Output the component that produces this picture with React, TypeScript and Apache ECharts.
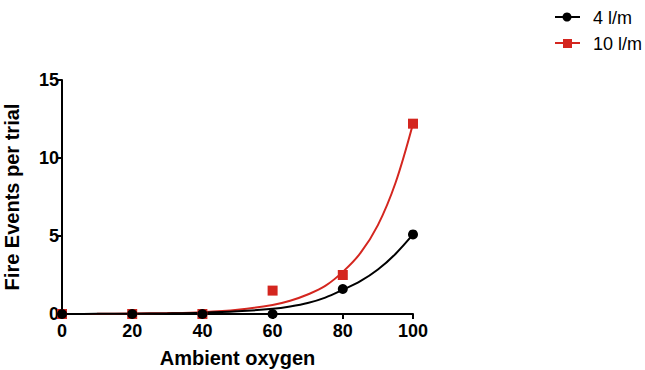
import React, { useEffect, useRef } from "react";
import * as echarts from "echarts";

const xTicks = [0, 20, 40, 60, 80, 100];
const pointsX = [0, 20, 40, 60, 80, 100];
const black4Points = [0, 0, 0, 0, 1.6, 5.1];
const red10Points = [0, 0, 0, 1.5, 2.5, 12.2];

const curveX = [0, 10, 20, 30, 40, 50, 60, 65, 70, 75, 80, 85, 90, 95, 100];
const black4Curve = [0, 0.01, 0.02, 0.04, 0.08, 0.17, 0.33, 0.48, 0.7, 1.05, 1.55, 2.1, 2.85, 3.85, 5.1];
const red10Curve = [0, 0.01, 0.03, 0.06, 0.12, 0.27, 0.58, 0.85, 1.25, 1.8, 2.7, 3.9, 5.7, 8.4, 12.2];

const legendNames = ["4 l/m", "10 l/m"];
const BLACK = "#000000";
const RED = "#d4261f";
const FONT = "'Liberation Sans', Arial, Helvetica, sans-serif";

export default function App() {
  const ref = useRef<HTMLDivElement>(null);
  useEffect(() => {
    if (!ref.current) return;
    const chart = echarts.init(ref.current, undefined, { renderer: "svg" });
    const zip = (xs: number[], ys: number[]) => xs.map((x, i) => [x, ys[i]]);
    chart.setOption({
      animation: false,
      backgroundColor: "#ffffff",
      grid: { left: 62, right: 232, top: 80, bottom: 56, containLabel: false, outerBoundsMode: "none" },
      xAxis: {
        type: "value",
        min: 0,
        max: 100,
        interval: 20,
        name: "Ambient oxygen",
        nameLocation: "middle",
        nameGap: 34,
        nameTextStyle: { fontFamily: FONT, fontWeight: "bold", fontSize: 20, color: "#000" },
        axisLine: { show: true, onZero: false, lineStyle: { color: "#000", width: 2 } },
        axisTick: { show: true, length: 5, lineStyle: { color: "#000", width: 2 } },
        axisLabel: {
          fontFamily: FONT,
          fontWeight: "bold",
          fontSize: 18,
          color: "#000",
          margin: 8,
          formatter: (v: number) => (xTicks.includes(v) ? String(v) : ""),
        },
        splitLine: { show: false },
      },
      yAxis: {
        type: "value",
        min: 0,
        max: 15,
        interval: 5,
        name: "Fire Events per trial",
        nameLocation: "middle",
        nameGap: 40,
        nameTextStyle: { fontFamily: FONT, fontWeight: "bold", fontSize: 20, color: "#000" },
        axisLine: { show: true, onZero: false, lineStyle: { color: "#000", width: 2 } },
        axisTick: { show: true, length: 5, lineStyle: { color: "#000", width: 2 } },
        axisLabel: { fontFamily: FONT, fontWeight: "bold", fontSize: 18, color: "#000", margin: 3 },
        splitLine: { show: false },
      },
      graphic: [
        { type: "line", shape: { x1: 555, y1: 17, x2: 580, y2: 17 }, style: { stroke: BLACK, lineWidth: 2 } },
        { type: "circle", shape: { cx: 567, cy: 17, r: 4.5 }, style: { fill: BLACK } },
        {
          type: "text",
          x: 593,
          y: 18,
          style: { text: legendNames[0], fontFamily: FONT, fontSize: 18, fill: "#000", verticalAlign: "middle", align: "left" },
        },
        { type: "line", shape: { x1: 555, y1: 43, x2: 580, y2: 43 }, style: { stroke: RED, lineWidth: 2 } },
        { type: "rect", shape: { x: 563, y: 39, width: 9, height: 9 }, style: { fill: RED } },
        {
          type: "text",
          x: 593,
          y: 44,
          style: { text: legendNames[1], fontFamily: FONT, fontSize: 18, fill: "#000", verticalAlign: "middle", align: "left" },
        },
      ],
      series: [
        {
          type: "line",
          name: legendNames[1] + " fit",
          data: zip(curveX, red10Curve),
          smooth: 0.35,
          showSymbol: false,
          symbol: "none",
          lineStyle: { color: RED, width: 2 },
          z: 2,
        },
        {
          type: "line",
          name: legendNames[0] + " fit",
          data: zip(curveX, black4Curve),
          smooth: 0.35,
          showSymbol: false,
          symbol: "none",
          lineStyle: { color: BLACK, width: 2 },
          z: 3,
        },
        {
          type: "scatter",
          name: legendNames[1],
          data: zip(pointsX, red10Points),
          symbol: "rect",
          symbolSize: 10,
          itemStyle: { color: RED, opacity: 1 },
          z: 4,
        },
        {
          type: "scatter",
          name: legendNames[0],
          data: zip(pointsX, black4Points),
          symbol: "circle",
          symbolSize: 10,
          itemStyle: { color: BLACK, opacity: 1 },
          z: 5,
        },
      ],
    });
    return () => chart.dispose();
  }, []);
  return <div ref={ref} style={{ position: "fixed", left: 0, top: 0, width: 645, height: 370 }} />;
}
